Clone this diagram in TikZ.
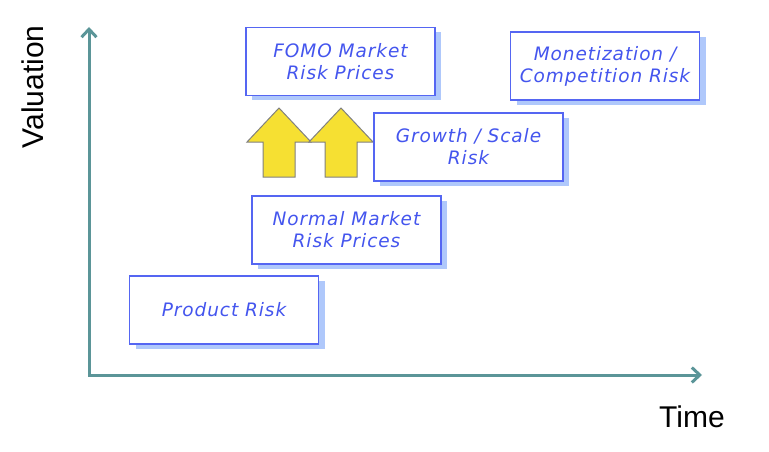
\documentclass[tikz,border=0pt]{standalone}
\usepackage{fontspec}
\setmainfont{Liberation Sans}
\newfontfamily\handfont[LetterSpace=5]{DejaVu Sans}
\usetikzlibrary{arrows.meta,shadows}
\definecolor{axisteal}{HTML}{5B9598}
\definecolor{boxblue}{HTML}{5566F2}
\definecolor{textblue}{HTML}{4455EE}
\definecolor{shadowblue}{HTML}{AFC8FB}
\definecolor{arrowyellow}{HTML}{F6E032}

\begin{document}
\begin{tikzpicture}[x=1pt, y=-1pt,
  risk/.style = {draw=boxblue, line width=1.5pt, fill=white, minimum width=189pt, minimum height=68pt, align=center, text=textblue, font=\handfont\itshape\fontsize{18.5}{22}\selectfont, drop shadow={fill=shadowblue, shadow xshift=6pt, shadow yshift=-5pt, opacity=1}},
  axis/.style = {draw=axisteal, line width=3pt, {Straight Barb[length=8pt,width=15pt]}-{Straight Barb[length=8pt,width=15pt]}},
  upbox/.style = {fill=arrowyellow, draw=gray, line width=1pt},
  label/.style = {font=\fontsize{30}{36}\selectfont}]
\useasboundingbox (0,0) rectangle (769,452);

% axes
\coordinate (origin) at (89,375);
\coordinate (ytop) at (89,27);
\coordinate (xend) at (702,375);
\draw[axis] (ytop) -- (origin) -- (xend);
\node[label, rotate=90] (valuation) at (33,87) {Valuation};
\node[label] (time) at (692,417) {Time};

% yellow arrows
\foreach \x in {279,341}
  \draw[upbox] (\x,108) -- (\x+32,142) -- (\x+16,142) -- (\x+16,177) -- (\x-16,177) -- (\x-16,142) -- (\x-32,142) -- cycle;

% risk boxes
\node[risk] (product) at (224,310) {Product Risk};
\node[risk] (normal) at (346.5,230) {Normal Market\\Risk Prices};
\node[risk] (growth) at (468.5,147) {Growth / Scale\\Risk};
\node[risk] (fomo) at (340.5,61.5) {FOMO Market\\Risk Prices};
\node[risk] (money) at (605,66) {Monetization /\\Competition Risk};
\end{tikzpicture}
\end{document}
